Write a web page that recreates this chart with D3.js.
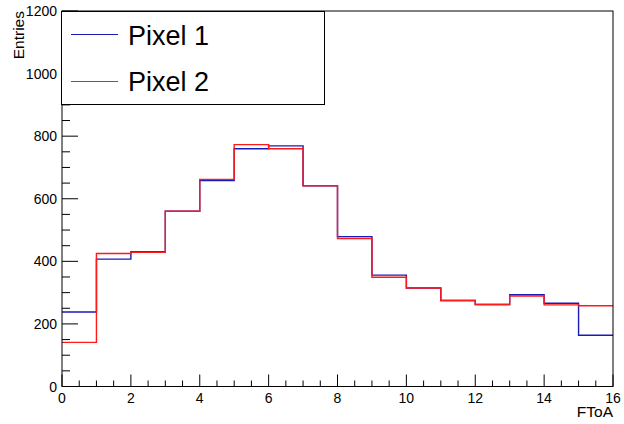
<!DOCTYPE html>
<html>
<head>
<meta charset="utf-8">
<script src="https://cdn.jsdelivr.net/npm/d3@7"></script>
<style>
  body { margin: 0; background: #fff; }
  svg { display: block; font-family: "Liberation Sans", Arial, sans-serif; }
</style>
</head>
<body>
<svg id="chart" width="624" height="424"></svg>
<script>
// bin edges 0..16, one value per bin
const binEdges = d3.range(0, 17);
const pixel1 = [238, 407, 431, 560, 658, 760, 769, 641, 479, 356, 315, 275, 262, 293, 266, 164];
const pixel2 = [141, 425, 429, 560, 662, 773, 760, 641, 473, 349, 315, 275, 262, 289, 261, 258];
const xTicks = [0, 2, 4, 6, 8, 10, 12, 14, 16];
const yTicks = [0, 200, 400, 600, 800, 1000, 1200];
const legendItems = [
  {label: 'Pixel 1', color: '#1a1ab8', values: pixel1},
  {label: 'Pixel 2', color: '#ff1a1a', values: pixel2}
];

(function draw() {
  const svg = d3.select('#chart');
  const pLeft = 62, pRight = 613, pTop = 11, pBottom = 386.5;

  const x = d3.scaleLinear().domain([0, 16]).range([pLeft, pRight]);
  const y = d3.scaleLinear().domain([0, 1200]).range([pBottom, pTop]);

  // histogram outlines as step lines
  function stepPoints(vals) {
    const pts = [];
    vals.forEach((v, i) => {
      pts.push([binEdges[i], v]);
      pts.push([binEdges[i + 1], v]);
    });
    return pts;
  }
  const line = d3.line().x(d => x(d[0])).y(d => y(d[1]));

  legendItems.forEach(s => {
    svg.append('path')
      .attr('d', line(stepPoints(s.values)))
      .attr('fill', 'none')
      .attr('stroke', s.color)
      .attr('stroke-width', 1.4);
  });

  // frame
  svg.append('rect')
    .attr('x', pLeft).attr('y', pTop)
    .attr('width', pRight - pLeft).attr('height', pBottom - pTop)
    .attr('fill', 'none').attr('stroke', '#000').attr('stroke-width', 1);

  // x axis ticks (inward)
  const xAxis = svg.append('g');
  d3.range(0, 16.01, 0.5).forEach(v => {
    const major = v % 2 === 0;
    xAxis.append('line')
      .attr('x1', x(v)).attr('x2', x(v))
      .attr('y1', pBottom).attr('y2', pBottom - (major ? 12 : 6))
      .attr('stroke', '#000').attr('stroke-width', 1);
  });
  xAxis.selectAll('text').data(xTicks).enter().append('text')
    .attr('x', d => x(d)).attr('y', 403)
    .attr('text-anchor', 'middle')
    .attr('font-size', 14)
    .text(d => d);

  // y axis ticks (inward)
  const yAxis = svg.append('g');
  d3.range(0, 1200.1, 50).forEach(v => {
    const major = v % 200 === 0;
    yAxis.append('line')
      .attr('x1', pLeft).attr('x2', pLeft + (major ? 16 : 8))
      .attr('y1', y(v)).attr('y2', y(v))
      .attr('stroke', '#000').attr('stroke-width', 1);
  });
  yAxis.selectAll('text').data(yTicks).enter().append('text')
    .attr('x', 57).attr('y', d => y(d) + 5)
    .attr('text-anchor', 'end')
    .attr('font-size', 14)
    .text(d => d);

  // axis titles
  svg.append('text')
    .attr('transform', 'translate(24,11) rotate(-90)')
    .attr('text-anchor', 'end')
    .attr('font-size', 15.5)
    .text('Entries');
  svg.append('text')
    .attr('x', 613).attr('y', 417)
    .attr('text-anchor', 'end')
    .attr('font-size', 15.5)
    .text('FToA');

  // legend
  const legend = svg.append('g');
  legend.append('rect')
    .attr('x', 61.5).attr('y', 11.5)
    .attr('width', 263).attr('height', 93)
    .attr('fill', '#fff').attr('stroke', '#000').attr('stroke-width', 1);
  legendItems.forEach((s, i) => {
    const ly = 34.5 + i * 47;
    legend.append('line')
      .attr('x1', 71).attr('x2', 118)
      .attr('y1', ly).attr('y2', ly)
      .attr('stroke', s.color).attr('stroke-width', 1.2);
    legend.append('text')
      .attr('x', 128).attr('y', 45 + i * 46)
      .attr('font-size', 27)
      .text(s.label);
  });
})();
</script>
</body>
</html>
